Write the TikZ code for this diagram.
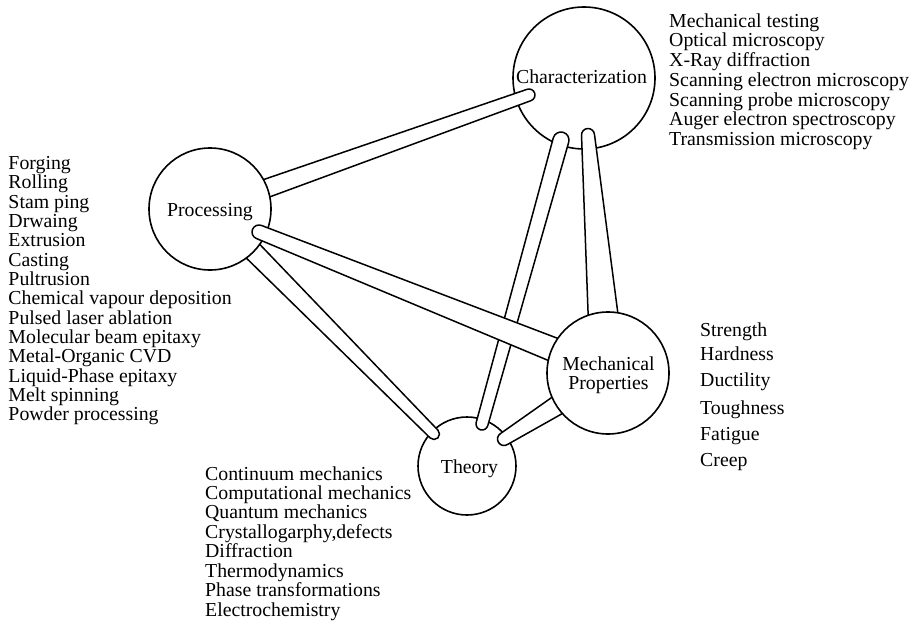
\documentclass[tikz,border=0pt]{standalone}
\usepackage{fontspec}
\setmainfont{Liberation Serif}
\usetikzlibrary{calc}
\tikzset{
  band/.style={draw=black, fill=white, line width=1.5pt, line join=round},
  circ/.style={circle, draw=black, fill=white, line width=1.6pt, inner sep=0pt},
  lbl/.style={font=\fontsize{19.8}{20}\selectfont, inner sep=0pt},
}
% band from #1 (half width #3) to #2 (half width #4), rounded at both ends
\newcommand\mkband[4]{%
  \path[band] let \p1=($(#2)-(#1)$), \n1={atan2(\y1,\x1)} in
    ($(#1)+(\n1+90:#3)$) -- ($(#2)+(\n1+90:#4)$)
    arc[start angle=\n1+90, delta angle=-180, radius=#4]
    -- ($(#1)+(\n1-90:#3)$)
    arc[start angle=\n1-90, delta angle=-180, radius=#3] -- cycle;}
\begin{document}
\begin{tikzpicture}[x=1pt,y=-1pt]
\useasboundingbox (0,0) rectangle (918,623);
% band end points
\coordinate (b1a) at (242,197); \coordinate (b1b) at (529,95);
\coordinate (b2a) at (259,232); \coordinate (b2b) at (582,361);
\coordinate (b3a) at (235,233); \coordinate (b3b) at (434,434);
\coordinate (b4a) at (561,140); \coordinate (b4b) at (482,424);
\coordinate (b5a) at (588,135); \coordinate (b5b) at (605,338);
\coordinate (b6a) at (504,439); \coordinate (b6b) at (580,391);
% lower circles
\node[circ, minimum size=142pt] (char) at (584,78) {};
\node[circ, minimum size=98pt] (theory) at (467,466) {};
% bands under Processing
\mkband{b1a}{b1b}{9.5pt}{6pt}
\mkband{b3a}{b3b}{10pt}{5.5pt}
\node[circ, minimum size=122pt] (proc) at (210,209) {};
% remaining bands
\mkband{b4a}{b4b}{8pt}{6pt}
\mkband{b2a}{b2b}{7pt}{12.5pt}
\mkband{b5a}{b5b}{6.5pt}{16pt}
\mkband{b6a}{b6b}{6.5pt}{11pt}
\node[circ, minimum size=122pt] (mech) at (608,373) {};
% circle labels
\node[lbl, anchor=base] (charL) at (581.5,83.5) {Characterization};
\node[lbl, anchor=base] (procL) at (210,216) {Processing};
\node[lbl, anchor=base] (mechL1) at (608.5,370) {Mechanical};
\node[lbl, anchor=base] (mechL2) at (608.5,389.3) {Properties};
\node[lbl, anchor=base] (theoryL) at (469.5,473) {Theory};
% lists
\foreach \t [count=\i] in {Forging, Rolling, Stam ping, Drwaing, Extrusion, Casting, Pultrusion, Chemical vapour deposition, Pulsed laser ablation, Molecular beam epitaxy, Metal-Organic CVD, Liquid-Phase epitaxy, Melt spinning, Powder processing}
  \node[lbl, anchor=base west] (p\i) at (8.3,169.3+19.35*\i-19.35) {\t};
\foreach \t [count=\i] in {Mechanical testing, Optical microscopy, X-Ray diffraction, Scanning electron microscopy, Scanning probe microscopy, Auger electron spectroscopy, Transmission microscopy}
  \node[lbl, anchor=base west] (c\i) at (669,27.3+19.7*\i-19.7) {\t};
\foreach \t [count=\i] in {Continuum mechanics, Computational mechanics, Quantum mechanics, {Crystallogarphy,defects}, Diffraction, Thermodynamics, Phase transformations, Electrochemistry}
  \node[lbl, anchor=base west] (t\i) at (205,480+19.43*\i-19.43) {\t};
\foreach \t/\y [count=\i] in {Strength/336.7, Hardness/360, Ductility/386, Toughness/414.3, Fatigue/440.7, Creep/466.7}
  \node[lbl, anchor=base west] (m\i) at (700,\y) {\t};
\end{tikzpicture}
\end{document}
